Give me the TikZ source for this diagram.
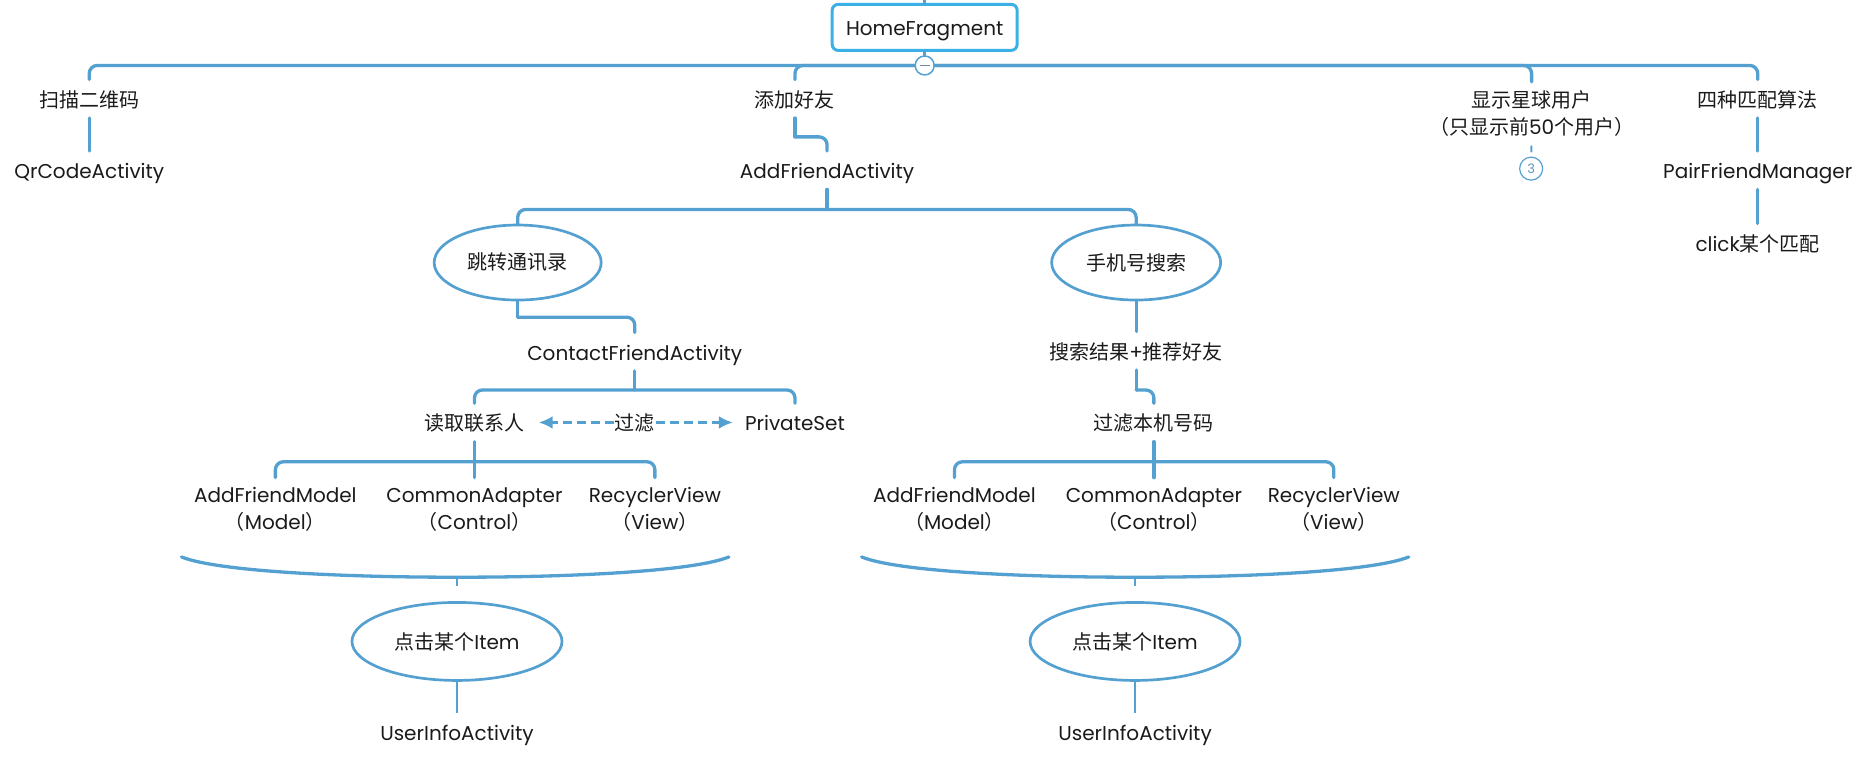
\documentclass[tikz,border=0pt]{standalone}
\usepackage{fontspec}
\setmainfont{Poppins}
\newfontfamily\cjk{Noto Sans CJK SC}
\usetikzlibrary{arrows.meta,shapes.geometric,positioning}
\definecolor{branch}{RGB}{84,161,209}
\definecolor{rootblue}{RGB}{58,176,230}
\definecolor{ink}{RGB}{26,26,26}

\begin{document}
\begin{tikzpicture}
    [x=1.19pt, y=-1.19pt,
      plain/.style={font=\fontsize{20}{27}\selectfont, text=ink, inner xsep=2pt, inner ysep=9pt},
      topic/.style={plain, text height=18.5pt, text depth=1.5pt},
      twoline/.style={plain, align=center, inner ysep=0pt, minimum height=63pt},
      oval/.style={plain, ellipse, draw=branch, line width=2.7pt, inner sep=0pt},
      link/.style={draw=branch, line width=3.3pt, rounded corners=8pt, line cap=round},
      thin link/.style={draw=branch, line width=1.9pt},
      filter arrow/.style={draw=branch, line width=3.5pt, dash pattern=on 9pt off 5pt, -{Latex[length=14pt,width=13pt]}}
    ]
    \useasboundingbox (0,0) rectangle (1568,648);

    \node [draw=rootblue, line width=3pt, rounded corners=6pt, minimum width=185pt, minimum height=46pt,
      font=\fontsize{20}{24}\selectfont, text=ink, text height=18pt, text depth=2pt] (home) at (777,23) {HomeFragment};
    \coordinate (top) at (777,0);
    \node [circle, draw=branch, fill=white, line width=1.5pt, minimum size=19pt, inner sep=0pt] (fold) at (777,55) {};

    \node [topic] (scan) at (75,83) {\cjk 扫描二维码};
    \node [topic] (qr) at (75,143) {QrCodeActivity};
    \node [topic] (add) at (668,83) {\cjk 添加好友};
    \node [topic] (afa) at (695,143) {AddFriendActivity};
    \node [twoline, minimum height=62pt] (star) at (1287,95) {{\cjk 显示星球用户}\\{\cjk （只显示前}50{\cjk 个用户）}};
    \node [circle, draw=branch, line width=1.2pt, minimum size=23pt, inner sep=0pt, text=branch!70!gray,
      font=\fontsize{13}{13}\selectfont] (more) at (1286.6,141.7) {3};
    \node [topic] (match) at (1477,83) {\cjk 四种匹配算法};
    \node [topic] (pair) at (1477,143) {PairFriendManager};
    \node [topic] (click) at (1477,204) {click{\cjk 某个匹配}};

    \node [oval, minimum width=167pt, minimum height=75pt] (jump) at (435,220.6) {\cjk 跳转通讯录};
    \node [oval, minimum width=169pt, minimum height=75pt] (phone) at (954.7,220.6) {\cjk 手机号搜索};

    \node [topic] (cfa) at (533.4,295.5) {ContactFriendActivity};
    \node [topic] (read) at (398.7,355) {\cjk 读取联系人};
    \node [topic, inner sep=1pt] (filter) at (533.4,355) {\cjk 过滤};
    \node [topic] (priv) at (668,355) {PrivateSet};
    \node [twoline] (m1) at (231.4,428) {AddFriendModel\\{\cjk （}Model{\cjk ）}};
    \node [twoline] (c1) at (398.7,428) {CommonAdapter\\{\cjk （}Control{\cjk ）}};
    \node [twoline] (v1) at (550.3,428) {RecyclerView\\{\cjk （}View{\cjk ）}};
    \node [oval, minimum width=210pt, minimum height=78pt] (item1) at (384,539) {{\cjk 点击某个}Item};
    \node [topic] (user1) at (384,615) {UserInfoActivity};

    \node [topic] (search) at (954.7,294.7) {{\cjk 搜索结果}+{\cjk 推荐好友}};
    \node [topic] (own) at (969.6,355) {\cjk 过滤本机号码};
    \node [twoline] (m2) at (802,428) {AddFriendModel\\{\cjk （}Model{\cjk ）}};
    \node [twoline] (c2) at (969.6,428) {CommonAdapter\\{\cjk （}Control{\cjk ）}};
    \node [twoline] (v2) at (1120.8,428) {RecyclerView\\{\cjk （}View{\cjk ）}};
    \node [oval, minimum width=210pt, minimum height=78pt] (item2) at (953.8,539) {{\cjk 点击某个}Item};
    \node [topic] (user2) at (953.8,615) {UserInfoActivity};

    \coordinate (s-add) at (668,115);
    \coordinate (j-afa) at (695,176);
    \coordinate (s-jump) at (435,266.5);
    \coordinate (j-cfa) at (533.4,327.7);
    \coordinate (j-read) at (398.7,388);
    \coordinate (br1) at (384,485);
    \coordinate (s-search) at (954.7,327.7);
    \coordinate (j-own) at (969.6,388);
    \coordinate (br2) at (953.8,485);

    \draw [link] (home) -- (top);
    \draw [link] (home) -- (fold);
    \foreach \t in {scan,add,star,match}
      \draw [link] (fold) -| (\t);
    \draw [gray!60!branch, line width=1.2pt] ([xshift=-5pt]fold.center) -- ([xshift=5pt]fold.center);
    \draw [link] (scan) -- (qr);
    \draw [link] (add) -- (s-add);
    \draw [link] (s-add) -| (afa);
    \draw [link, line width=2pt, shorten <=2pt, shorten >=5pt] (star) -- (more);
    \draw [link] (match) -- (pair);
    \draw [link] (pair) -- (click);

    \draw [link] (afa) -- (j-afa);
    \draw [link] (j-afa) -| (jump);
    \draw [link] (j-afa) -| (phone);

    \draw [link] (jump) -- (s-jump);
    \draw [link] (s-jump) -| (cfa);
    \draw [link] (cfa) -- (j-cfa);
    \draw [link] (j-cfa) -| (read);
    \draw [link] (j-cfa) -| (priv);
    \draw [filter arrow, shorten >=12pt] (filter) -- (read);
    \draw [filter arrow, shorten >=10pt] (filter) -- (priv);
    \draw [link] (read) -- (j-read);
    \draw [link] (j-read) -| (m1);
    \draw [link] (j-read) -- (c1);
    \draw [link] (j-read) -| (v1);
    \draw [link] (152.5,468) .. controls (185,481) and (300,485) .. (br1) .. controls (468,485) and (580,481) .. (612.5,468);
    \draw [thin link, shorten >=15pt] (br1) -- (item1);
    \draw [thin link] (item1) -- (user1);

    \draw [link] (phone) -- (search);
    \draw [link] (search) -- (s-search);
    \draw [link] (s-search) -| (own);
    \draw [link] (own) -- (j-own);
    \draw [link] (j-own) -| (m2);
    \draw [link] (j-own) -- (c2);
    \draw [link] (j-own) -| (v2);
    \draw [link] (724,468) .. controls (756,481) and (870,485) .. (br2) .. controls (1038,485) and (1151,481) .. (1183.8,468);
    \draw [thin link, shorten >=15pt] (br2) -- (item2);
    \draw [thin link] (item2) -- (user2);
  \end{tikzpicture}
\end{document}
